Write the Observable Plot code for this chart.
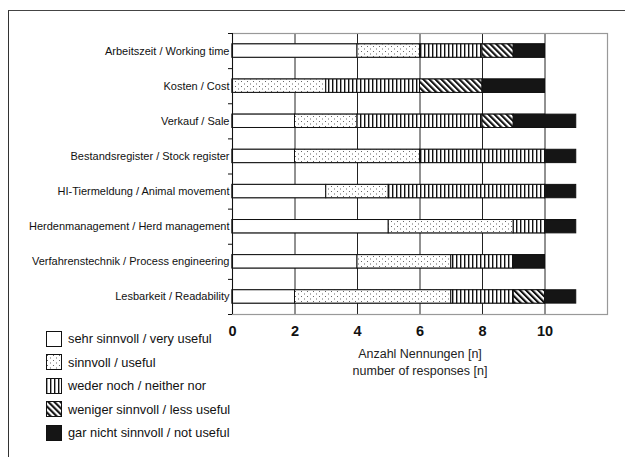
<!DOCTYPE html>
<html>
<head>
<meta charset="utf-8">
<script src="https://cdn.jsdelivr.net/npm/d3@7"></script>
<script src="https://cdn.jsdelivr.net/npm/@observablehq/plot@0.6"></script>
<style>
  html, body { margin: 0; padding: 0; background: #fff; overflow: hidden; }
  body { width: 625px; height: 457px; position: relative; font-family: "Liberation Sans", Arial, sans-serif; }
  #outer { position: absolute; left: 8px; top: 10px; width: 700px; height: 600px;
           border-left: 1px solid #333; border-top: 1.5px solid #444; }
  #chart { position: absolute; left: 0; top: 0; }
  #legend { position: absolute; left: 46px; top: 327px; font-size: 12.8px; color: #111; }
  .row { display: flex; align-items: center; height: 23.5px; }
  .row svg { margin-right: 6px; }
</style>
</head>
<body>
<svg width="0" height="0" style="position:absolute">
  <defs>
    <pattern id="pDots" patternUnits="userSpaceOnUse" width="6" height="5">
      <rect width="6" height="5" fill="#fff"/>
      <rect x="1" y="1" width="1" height="1" fill="#666"/>
      <rect x="4" y="3.5" width="1" height="1" fill="#666"/>
    </pattern>
    <pattern id="pVert" patternUnits="userSpaceOnUse" width="4" height="4">
      <rect width="4" height="4" fill="#fff"/>
      <rect x="0" y="0" width="1.4" height="4" fill="#111"/>
    </pattern>
    <pattern id="pDiag" patternUnits="userSpaceOnUse" width="4.25" height="4.25" patternTransform="rotate(-45)">
      <rect width="4.25" height="4.25" fill="#fff"/>
      <rect x="0" y="0" width="2.1" height="4.25" fill="#111"/>
    </pattern>
  </defs>
</svg>
<div id="outer"></div>
<div id="chart"></div>
<div id="legend"></div>
<script>
const categories = [
  "Arbeitszeit / Working time",
  "Kosten / Cost",
  "Verkauf / Sale",
  "Bestandsregister / Stock register",
  "HI-Tiermeldung / Animal movement",
  "Herdenmanagement / Herd management",
  "Verfahrenstechnik / Process engineering",
  "Lesbarkeit / Readability"
];
const levels = [
  "sehr sinnvoll / very useful",
  "sinnvoll / useful",
  "weder noch / neither nor",
  "weniger sinnvoll / less useful",
  "gar nicht sinnvoll / not useful"
];
const veryUseful = [4, 0, 2, 2, 3, 5, 4, 2];
const useful     = [2, 3, 2, 4, 2, 4, 3, 5];
const neither    = [2, 3, 4, 4, 5, 1, 2, 2];
const lessUseful = [1, 2, 1, 0, 0, 0, 0, 1];
const notUseful  = [1, 2, 2, 1, 1, 1, 1, 1];
const xTicks = [0, 2, 4, 6, 8, 10];
const gridTicks = [2, 4, 6, 8, 10];
const fills = ["#fff", "url(#pDots)", "url(#pVert)", "url(#pDiag)", "#151515"];

const series = [veryUseful, useful, neither, lessUseful, notUseful];
// long table with stacked extents
const rows = [];
categories.forEach((c, i) => {
  let acc = 0;
  series.forEach((s, k) => {
    const v = s[i];
    if (v > 0) rows.push({cat: c, idx: i, level: levels[k], k, x1: acc, x2: acc + v});
    acc += v;
  });
});
const back = categories.map((c, i) => ({cat: c, idx: i, x1: 0, x2: 10}));
const bandPad = 0.31;

const chart = Plot.plot({
  width: 625,
  height: 380,
  marginLeft: 232,
  marginRight: 18,
  marginTop: 33,
  marginBottom: 66,
  style: {background: "transparent", overflow: "visible", fontFamily: "Liberation Sans, Arial, sans-serif", color: "#111"},
  x: {domain: [0, 12]},
  y: {domain: [0, categories.length], reverse: true},
  marks: [
    Plot.ruleX(gridTicks, {stroke: "#222", strokeWidth: 1}),
    Plot.rect(back, {x1: "x1", x2: "x2", y1: d => d.idx + bandPad, y2: d => d.idx + 1 - bandPad, fill: "#fff", stroke: "#111", strokeWidth: 1}),
    ...levels.map((lv, k) => Plot.rect(rows.filter(r => r.k === k), {
      x1: "x1", x2: "x2",
      y1: d => d.idx + bandPad, y2: d => d.idx + 1 - bandPad,
      fill: fills[k], stroke: "#111", strokeWidth: 1
    })),
    Plot.frame({stroke: "#999", strokeWidth: 1.2}),
    Plot.ruleX([0], {stroke: "#111", strokeWidth: 1}),
    Plot.axisY({ticks: d3.range(0, categories.length + 1), tickSize: 4, tickFormat: () => "", label: null, stroke: "#111"}),
    Plot.axisY({ticks: categories.map((c, i) => i + 0.5), tickFormat: v => categories[Math.floor(v)], tickSize: 0, tickPadding: 3, fontSize: 11, label: null}),
    Plot.axisX({ticks: xTicks, tickSize: 0, tickPadding: 11, fontSize: 14.5, fontWeight: "bold", label: null}),
    Plot.text(["Anzahl Nennungen [n]\nnumber of responses [n]"], {
      frameAnchor: "bottom", dy: 32, lineAnchor: "top", fontSize: 12.5, lineHeight: 1.33, fill: "#222"
    })
  ]
});
document.getElementById("chart").appendChild(chart);

const legend = document.getElementById("legend");
levels.forEach((lv, k) => {
  const row = document.createElement("div");
  row.className = "row";
  row.innerHTML = `<svg width="16" height="16"><rect x="0.5" y="0.5" width="15" height="15" fill="${fills[k]}" stroke="#111" stroke-width="1"/></svg><span>${lv}</span>`;
  legend.appendChild(row);
});
</script>
</body>
</html>
